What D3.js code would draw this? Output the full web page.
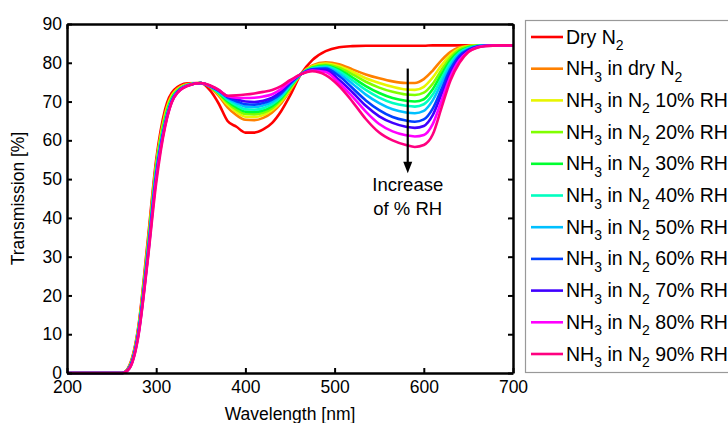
<!DOCTYPE html>
<html>
<head>
<meta charset="utf-8">
<script src="https://cdn.jsdelivr.net/npm/d3@7"></script>
<style>
  body { margin: 0; background: #fff; }
  svg { font-family: "Liberation Sans", Arial, sans-serif; }
</style>
</head>
<body>
<div id="chart"></div>
<script>
var wavelength = [200, 262, 270, 280, 290, 300, 310, 320, 335, 350, 360, 370, 380, 390, 400, 410, 420, 430, 440, 450,
                  462, 475, 490, 505, 520, 535, 550, 565, 580, 590, 600, 610, 620, 630, 640, 650, 660, 670, 685, 700];

var dryN2    = [0,0,2,12,33,55,68,73,74.7,74.8,73,69.5,65,63.5,62,62,62.8,64.5,67.5,71.5,77,80.7,83,84,84.3,84.4,84.4,84.4,84.4,84.4,84.4,84.5,84.5,84.5,84.5,84.5,84.5,84.5,84.5,84.5];
var nh3Dry   = [0,0,1.8,11.5,32,54,67,72.5,74.5,74.8,73.8,71.5,68.5,66.5,65.3,65.2,65.8,67.2,69.5,72.8,77,79.3,80.1,79.6,78.3,77,76,75.2,74.8,74.8,75.8,78,80.7,82.8,84,84.4,84.5,84.5,84.5,84.5];
var nh3RH10  = [0,0,1.7,11.2,31.5,53.5,66.5,72.3,74.4,74.8,73.9,71.9,69.2,67.3,66.1,66,66.5,67.8,70,73.1,77,79.1,79.8,79.1,77.7,76,74.8,73.8,73.1,73,73.8,76.2,79.4,82.1,83.7,84.3,84.5,84.5,84.5,84.5];
var nh3RH20  = [0,0,1.6,11,31,53,66,72,74.3,74.8,73.9,72.1,69.7,67.9,66.8,66.7,67.1,68.3,70.4,73.4,77,78.9,79.5,78.7,77,75.1,73.6,72.5,71.8,71.7,72.3,74.6,78.2,81.4,83.4,84.2,84.4,84.5,84.5,84.5];
var nh3RH30  = [0,0,1.5,10.8,30.5,52.5,65.5,71.8,74.3,74.8,73.9,72.2,70.1,68.5,67.4,67.3,67.7,68.8,70.8,73.7,77,78.7,79.2,78.2,76.2,74,72.2,70.9,70.2,70,70.6,73.2,77.1,80.7,83,84,84.4,84.5,84.5,84.5];
var nh3RH40  = [0,0,1.5,10.6,30,52,65,71.6,74.2,74.8,74,72.4,70.5,69,68,67.9,68.3,69.3,71.2,74,77,78.6,79,77.8,75.5,73,71,69.6,68.9,68.7,69.3,71.8,76,80,82.6,83.8,84.3,84.5,84.5,84.5];
var nh3RH50  = [0,0,1.4,10.4,29.5,51.5,64.5,71.4,74.2,74.8,74,72.6,70.8,69.6,68.7,68.6,69,69.9,71.7,74.3,77,78.4,78.8,77.2,74.6,71.8,69.6,68,67.2,67,67.6,70.3,74.8,79.2,82.2,83.6,84.3,84.5,84.5,84.5];
var nh3RH60  = [0,0,1.4,10.2,29.2,51,64.2,71.3,74.1,74.8,74,72.8,71.1,70.1,69.3,69.2,69.6,70.5,72.1,74.6,77,78.3,78.5,76.6,73.5,70.3,67.8,66,65.1,64.8,65.4,68.2,73.3,78.4,81.8,83.4,84.2,84.4,84.5,84.5];
var nh3RH70  = [0,0,1.3,10,28.8,50.5,64,71.2,74.1,74.8,74.1,72.9,71.3,70.6,70,69.9,70.2,71,72.6,74.9,77,78.2,78.1,75.6,72.4,68.9,66.2,64.5,63.5,63.2,63.7,66.5,72,77.5,81.3,83.2,84.1,84.4,84.5,84.5];
var nh3RH80  = [0,0,1.2,9.7,28.4,50,63.8,71.1,74.1,74.8,74.1,73,71.4,71,70.9,71,71.3,71.9,73.2,75.2,77,78,77.6,74.8,71.3,67.4,64.2,62.3,61.3,61,61.4,64.2,70.3,76.5,80.7,82.9,84,84.4,84.5,84.5];
var nh3RH90  = [0,0,1.2,9.5,28,49,63.5,71,74,74.8,74.2,73,71.5,71.6,71.8,72.1,72.5,73,74,75.5,77,77.8,76.8,74,70,65.5,62,60,58.8,58.3,58.8,61.5,68.5,75.5,80,82.8,83.9,84.3,84.5,84.5];

var seriesValues = [dryN2, nh3Dry, nh3RH10, nh3RH20, nh3RH30, nh3RH40, nh3RH50, nh3RH60, nh3RH70, nh3RH80, nh3RH90];
var seriesLabels = ["Dry N_2", "NH_3 in dry N_2", "NH_3 in N_2 10% RH", "NH_3 in N_2 20% RH", "NH_3 in N_2 30% RH",
                    "NH_3 in N_2 40% RH", "NH_3 in N_2 50% RH", "NH_3 in N_2 60% RH", "NH_3 in N_2 70% RH",
                    "NH_3 in N_2 80% RH", "NH_3 in N_2 90% RH"];
var seriesColors = ["#ff0000", "#ff8000", "#e8f500", "#80ff00", "#00ff30", "#00ffc0", "#00c0ff", "#0040ff", "#4000ff", "#ff00ff", "#ff0080"];

var xTicks = [200, 300, 400, 500, 600, 700];
var yTicks = [0, 10, 20, 30, 40, 50, 60, 70, 80, 90];

var width = 728, height = 423;
var margin = {top: 24, right: 215, bottom: 50, left: 67};

var svg = d3.select("#chart").append("svg")
  .attr("width", width)
  .attr("height", height);

var x = d3.scaleLinear().domain([200, 700]).range([margin.left, width - margin.right]);
var y = d3.scaleLinear().domain([0, 90]).range([height - margin.bottom, margin.top]);

var line = d3.line()
  .x(function(d) { return x(d[0]); })
  .y(function(d) { return y(d[1]); })
  .curve(d3.curveMonotoneX);

// curves, red first so the pink ends on top
svg.append("g")
  .selectAll("path")
  .data(seriesValues)
  .enter().append("path")
  .attr("fill", "none")
  .attr("stroke", function(d, i) { return seriesColors[i]; })
  .attr("stroke-width", 2.6)
  .attr("stroke-linejoin", "round")
  .attr("d", function(vals) { return line(wavelength.map(function(w, j) { return [w, vals[j]]; })); });

// axes with inward ticks on all four sides
var tickLen = 5;
var axisB = d3.axisBottom(x).tickValues(xTicks).tickSizeInner(-tickLen).tickSizeOuter(0).tickPadding(9);
var axisT = d3.axisTop(x).tickValues(xTicks).tickSizeInner(-tickLen).tickSizeOuter(0).tickFormat("");
var axisL = d3.axisLeft(y).tickValues(yTicks).tickSizeInner(-tickLen).tickSizeOuter(0).tickPadding(5);
var axisR = d3.axisRight(y).tickValues(yTicks).tickSizeInner(-tickLen).tickSizeOuter(0).tickFormat("");

function styleAxis(g) {
  g.select(".domain").attr("stroke", "#000").attr("stroke-width", 2.5);
  g.selectAll(".tick line").attr("stroke", "#000").attr("stroke-width", 2);
  g.selectAll(".tick text").attr("fill", "#000").style("font-size", "17.5px");
}

svg.append("g").attr("transform", "translate(0," + y(0) + ")").call(axisB).call(styleAxis)
  .selectAll(".tick text").attr("dy", "0.6em");
svg.append("g").attr("transform", "translate(0," + y(90) + ")").call(axisT).call(styleAxis);
svg.append("g").attr("transform", "translate(" + x(200) + ",0)").call(axisL).call(styleAxis);
svg.append("g").attr("transform", "translate(" + x(700) + ",0)").call(axisR).call(styleAxis);

svg.append("text")
  .attr("x", (x(200) + x(700)) / 2)
  .attr("y", 420)
  .attr("text-anchor", "middle")
  .style("font-size", "17.5px")
  .text("Wavelength [nm]");

svg.append("text")
  .attr("transform", "translate(24," + ((y(0) + y(90)) / 2) + ") rotate(-90)")
  .attr("text-anchor", "middle")
  .style("font-size", "17.5px")
  .text("Transmission [%]");

// annotation arrow
var arrowX = x(582);
svg.append("line")
  .attr("x1", arrowX).attr("x2", arrowX)
  .attr("y1", y(78.5)).attr("y2", y(53.5))
  .attr("stroke", "#000").attr("stroke-width", 2.2);
svg.append("path")
  .attr("d", "M" + (arrowX - 4.5) + "," + y(54.5) + "L" + (arrowX + 4.5) + "," + y(54.5) + "L" + arrowX + "," + y(51.5) + "Z")
  .attr("fill", "#000");

var note = svg.append("text")
  .attr("text-anchor", "middle")
  .style("font-size", "18.5px");
note.append("tspan").attr("x", arrowX).attr("y", 191).text("Increase");
note.append("tspan").attr("x", arrowX).attr("y", 215).text("of % RH");

// legend
var legend = svg.append("g");
legend.append("rect")
  .attr("x", 525.5).attr("y", 20.5)
  .attr("width", 240).attr("height", 352)
  .attr("fill", "#fff")
  .attr("stroke", "#999").attr("stroke-width", 1.2);

var rowY = d3.scaleLinear().domain([0, seriesLabels.length - 1]).range([37, 354]);

var rows = legend.selectAll(".row")
  .data(seriesLabels)
  .enter().append("g")
  .attr("class", "row")
  .attr("transform", function(d, i) { return "translate(0," + rowY(i) + ")"; });

rows.append("line")
  .attr("x1", 531).attr("x2", 563)
  .attr("stroke", function(d, i) { return seriesColors[i]; })
  .attr("stroke-width", 2.6);

rows.append("text")
  .attr("x", 566)
  .attr("y", 6.5)
  .style("font-size", "19.5px")
  .each(function(label) {
    var t = d3.select(this);
    var parts = label.split("_");
    t.append("tspan").text(parts[0]);
    for (var k = 1; k < parts.length; k++) {
      t.append("tspan").attr("dy", 6.5).style("font-size", "14px").text(parts[k].charAt(0));
      t.append("tspan").attr("dy", -6.5).text(parts[k].slice(1));
    }
  });
</script>
</body>
</html>
